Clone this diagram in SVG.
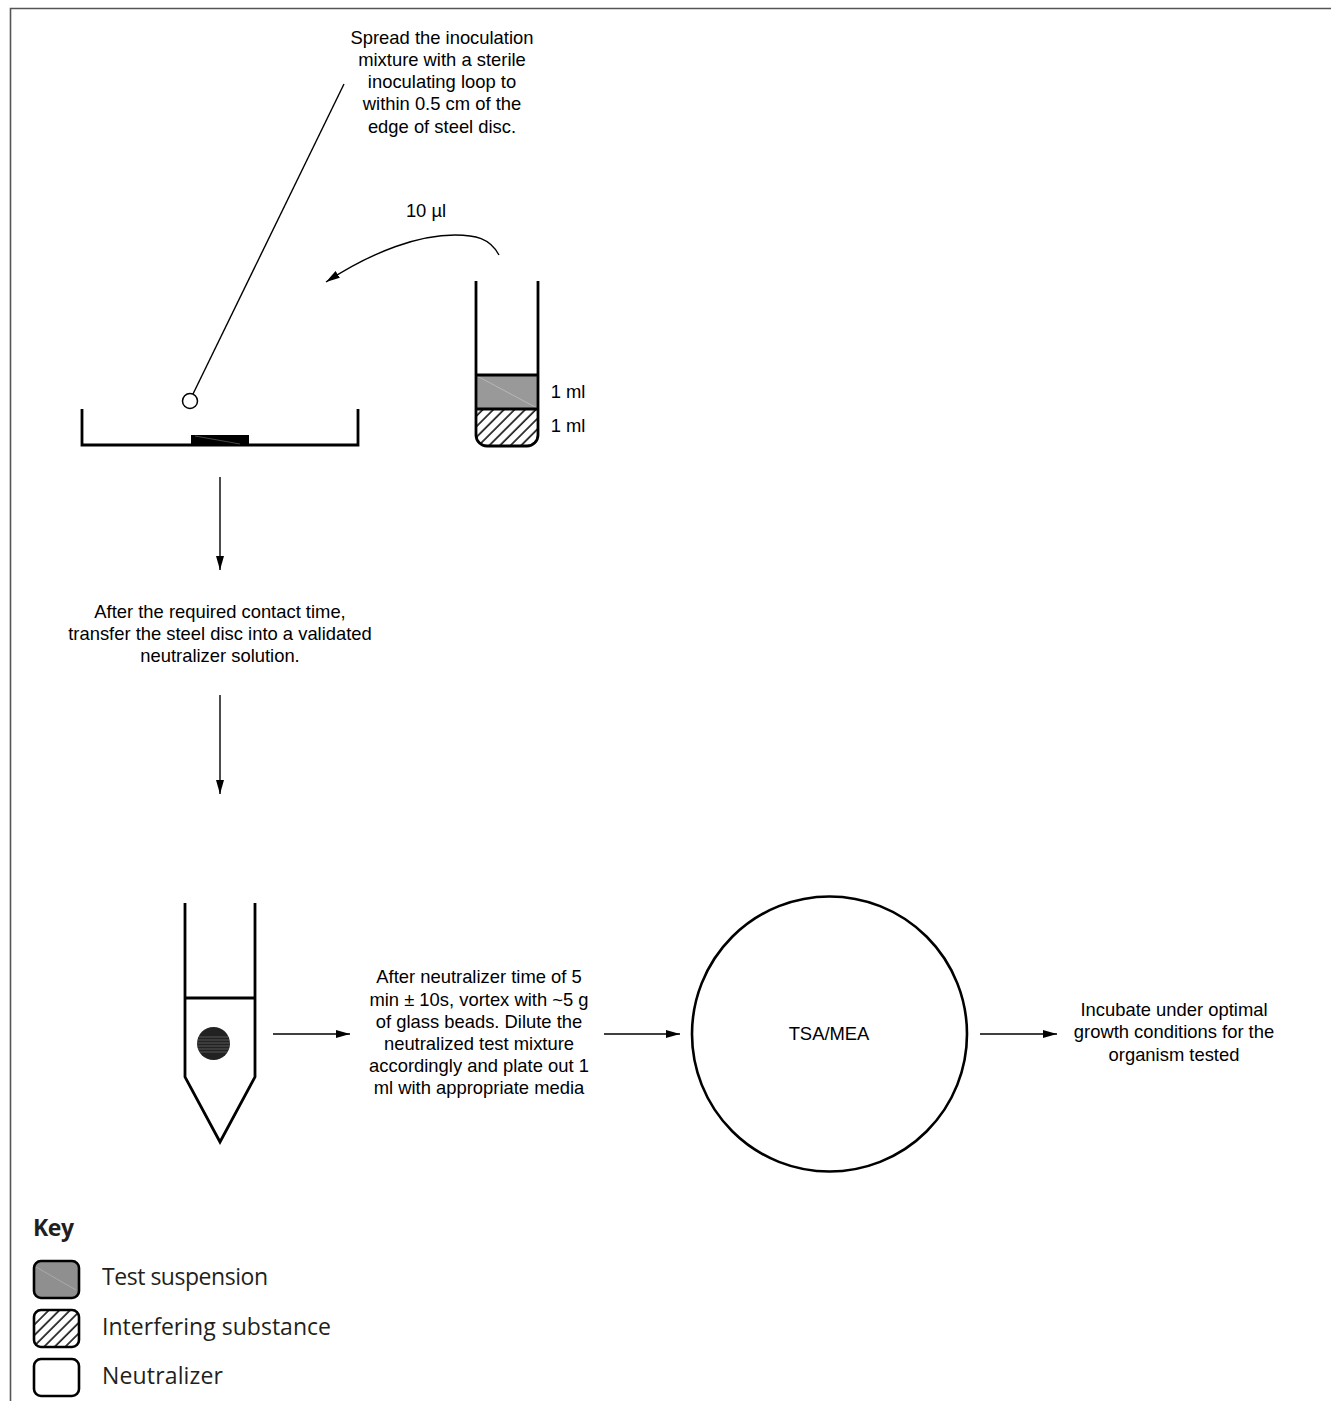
<svg xmlns="http://www.w3.org/2000/svg" width="1331" height="1401" viewBox="0 0 1331 1401">
<style>
text{font-family:"Liberation Sans",Arial,sans-serif;font-size:18.4px;fill:#000;text-anchor:middle}
.k{font-family:"Open Sans","Noto Sans",sans-serif;font-size:23px;fill:#231f20;text-anchor:start}
.t{fill:none;stroke:#000;stroke-width:2.800}
.c{fill:none;stroke:#000;stroke-width:1.400}
</style>
<defs>
<marker id="a" markerUnits="userSpaceOnUse" markerWidth="15" markerHeight="9" refX="14" refY="4.500" orient="auto"><path d="M0 .5L14 4.500L0 8.500Z" fill="#000"/></marker>
<pattern id="h" patternUnits="userSpaceOnUse" width="7.500" height="7.500" patternTransform="rotate(-45)"><rect width="7.500" height="7.500" fill="#fff"/><line x1="0" y1="1" x2="7.500" y2="1" stroke="#000" stroke-width="1.500"/></pattern>
</defs>
<rect width="1331" height="1401" fill="#fff"/>
<path id="frame" d="M1331 8.500H10.500V1401" fill="none" stroke="#555" stroke-width="1.600"/>
<g id="instruction-spread"><text x="442" y="44">Spread the inoculation</text><text x="442" y="66">mixture with a sterile</text><text x="442" y="88">inoculating loop to</text><text x="442" y="110">within 0.5 cm of the</text><text x="442" y="133">edge of steel disc.</text></g>
<g id="volume-label"><text x="426" y="217">10 µl</text></g>
<g id="loop"><line class="c" x1="344" y1="84" x2="193" y2="394"/><circle cx="190" cy="401" r="7.500" fill="#fff" stroke="#000" stroke-width="1.500"/></g>
<g id="dish"><path class="t" d="M82 409V445H358V409"/><rect x="191" y="435" width="58" height="10" fill="#000"/><line x1="195" y1="436" x2="240" y2="444" stroke="#777" stroke-width=".6"/></g>
<g id="tube"><rect x="476" y="375" width="62" height="34" fill="#999"/><line x1="477" y1="376" x2="537" y2="408" stroke="#c4c4c4" stroke-width=".7"/><path d="M476 409H538V435A11 11 0 0 1 527 446H487A11 11 0 0 1 476 435Z" fill="url(#h)"/><path class="t" d="M476 281V435A11 11 0 0 0 487 446H527A11 11 0 0 0 538 435V281M476 375H538M476 409H538"/><text x="568" y="398">1 ml</text><text x="568" y="432">1 ml</text></g>
<g id="instruction-transfer"><text x="220" y="618">After the required contact time,</text><text x="220" y="640">transfer the steel disc into a validated</text><text x="220" y="662">neutralizer solution.</text></g>
<g id="conical-tube"><path class="t" d="M185 903V1077L220 1142L255 1077V903M185 998H255"/><circle cx="213.500" cy="1043.500" r="16.500" fill="#222"/><g stroke="#666" stroke-width=".8"><line x1="199" y1="1037" x2="228" y2="1037"/><line x1="198" y1="1040" x2="229" y2="1040"/><line x1="197" y1="1043" x2="230" y2="1043"/><line x1="197" y1="1046" x2="230" y2="1046"/><line x1="198" y1="1049" x2="229" y2="1049"/><line x1="200" y1="1052" x2="227" y2="1052"/></g></g>
<g id="instruction-vortex"><text x="479" y="983">After neutralizer time of 5</text><text x="479" y="1006">min ± 10s, vortex with ~5 g</text><text x="479" y="1028">of glass beads. Dilute the</text><text x="479" y="1050">neutralized test mixture</text><text x="479" y="1072">accordingly and plate out 1</text><text x="479" y="1094">ml with appropriate media</text></g>
<g id="plate"><circle cx="829.500" cy="1034" r="137.500" fill="#fff" stroke="#000" stroke-width="2.600"/><text x="829" y="1040">TSA/MEA</text></g>
<g id="instruction-incubate"><text x="1174" y="1016">Incubate under optimal</text><text x="1174" y="1038">growth conditions for the</text><text x="1174" y="1061">organism tested</text></g>
<g id="connectors">
<path class="c" marker-end="url(#a)" d="M499 255C490 238 475 235 455 235C420 235 375 250 326 282"/>
<line class="c" marker-end="url(#a)" x1="220" y1="477" x2="220" y2="570"/>
<line class="c" marker-end="url(#a)" x1="220" y1="695" x2="220" y2="794"/>
<line class="c" marker-end="url(#a)" x1="273" y1="1034" x2="350" y2="1034"/>
<line class="c" marker-end="url(#a)" x1="604" y1="1034" x2="680" y2="1034"/>
<line class="c" marker-end="url(#a)" x1="980" y1="1034" x2="1057" y2="1034"/>
</g>
<g id="key"><text class="k" x="33" y="1236" style="font-weight:700" textLength="41">Key</text>
<rect x="34" y="1261" width="45" height="37" rx="7" fill="#8f8f8f" stroke="#000" stroke-width="2.600"/><line x1="36" y1="1267" x2="76" y2="1290" stroke="#b5b5b5" stroke-width=".7"/><text class="k" x="102" y="1285" textLength="166">Test suspension</text>
<rect x="34" y="1310" width="45" height="37" rx="7" fill="url(#h)" stroke="#000" stroke-width="2.600"/><text class="k" x="102" y="1335" textLength="229">Interfering substance</text>
<rect x="34" y="1359" width="45" height="37" rx="7" fill="#fff" stroke="#000" stroke-width="2.600"/><text class="k" x="102" y="1384" textLength="121">Neutralizer</text></g>
</svg>
